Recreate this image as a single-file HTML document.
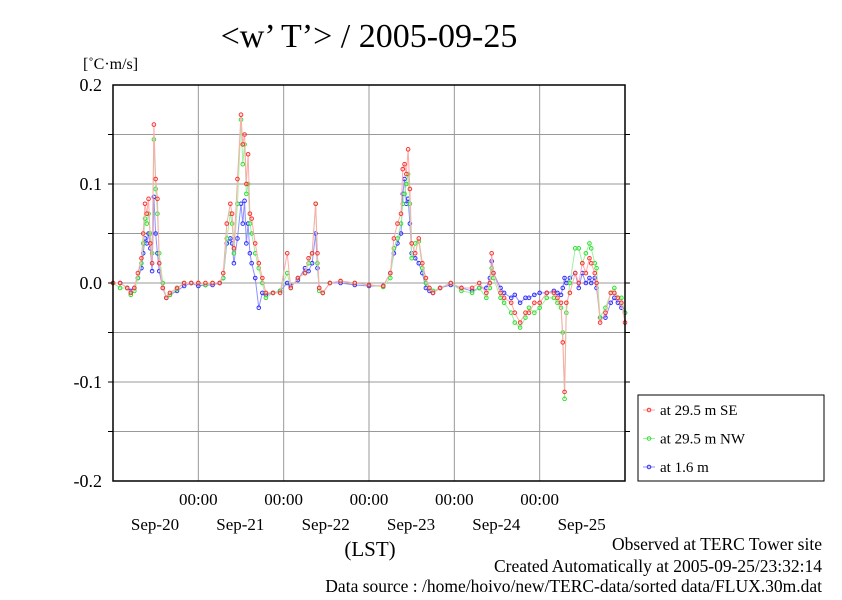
<!DOCTYPE html>
<html><head><meta charset="utf-8"><style>
body{margin:0;background:#fff;}
svg text{font-family:"Liberation Serif",serif;fill:#000;}
</style></head><body>
<svg id="chart" width="842" height="595" viewBox="0 0 842 595" xmlns="http://www.w3.org/2000/svg">
<rect width="842" height="595" fill="#fff"/>
<text x="369" y="47" font-size="34" text-anchor="middle">&lt;w’ T’&gt; / 2005-09-25</text>
<text x="83" y="69" font-size="16">[˚C·m/s]</text>
<g id="grid"></g>
<g id="series"></g>
<rect x="113" y="85" width="512" height="396" fill="none" stroke="#000" stroke-width="1.5"/>
<g id="axes"></g>
<text x="370" y="556" font-size="21" text-anchor="middle">(LST)</text>
<g>
<rect x="638" y="395" width="186" height="86" fill="#fff" stroke="#000" stroke-width="1"/>
<g id="legend-items"></g>
</g>
<text x="822" y="550" font-size="17.5" text-anchor="end">Observed at TERC Tower site</text>
<text x="822" y="572" font-size="17.5" text-anchor="end">Created Automatically at 2005-09-25/23:32:14</text>
<text x="822" y="595" font-size="17.5" text-anchor="end" dy="-3">Data source : /home/hoivo/new/TERC-data/sorted  data/FLUX.30m.dat</text>
</svg>
<script>
const hours=[0,2,4,5,6,7,8,8.5,9,9.5,10,10.5,11,11.5,12,12.5,13,14,15,16,18,20,22,24,26,28,30,31,32,33,33.5,34,35,36,36.5,37,37.5,38,38.5,39,40,41,42,43,45,47,49,50,52,54,55,56,57,57.5,58,59,61,64,68,72,76,78,79,80,81,81.5,82,82.5,83,83.5,84,85,86,87,88,89,90,92,95,98,101,103,105,106,106.5,107,109,110,112,113,114.5,116,117,118.5,120,122,124,125,126,126.5,127,127.5,128.5,130,131,132,133,134,134.5,135.5,136,137,138.5,140,141,142,143,144];
const seriesSE=[0,0,-0.005,-0.01,-0.005,0.01,0.025,0.05,0.08,0.07,0.085,0.04,0.02,0.16,0.105,0.085,0.02,-0.005,-0.015,-0.01,-0.005,0,0,0,0,0,0,0.01,0.06,0.08,0.07,0.035,0.105,0.17,0.14,0.15,0.1,0.13,0.07,0.065,0.04,0.02,0.005,-0.01,-0.01,-0.01,0.03,-0.005,0.005,0.01,0.025,0.03,0.08,0.03,-0.005,-0.01,0,0.002,0,-0.002,-0.003,0.01,0.045,0.06,0.07,0.115,0.12,0.11,0.135,0.095,0.04,0.03,0.045,0.02,0.005,-0.005,-0.01,-0.005,0,-0.005,-0.005,0,-0.01,0,0.03,0.01,-0.01,-0.015,-0.02,-0.03,-0.04,-0.03,-0.03,-0.02,-0.02,-0.01,-0.01,-0.015,-0.02,-0.06,-0.11,-0.02,-0.01,0.01,0,0.02,0.01,0.025,0.02,0.01,0,-0.04,-0.03,-0.01,-0.01,-0.015,-0.02,-0.04];
const seriesNW=[0,-0.005,-0.005,-0.012,-0.008,0.005,0.02,0.04,0.065,0.06,0.07,0.05,0.03,0.145,0.095,0.07,0.03,0,-0.015,-0.012,-0.006,0,0,0,-0.002,0,0,0.005,0.045,0.07,0.06,0.03,0.08,0.165,0.12,0.14,0.09,0.1,0.06,0.05,0.03,0.015,0,-0.015,-0.01,-0.008,0.01,-0.005,0.005,0.01,0.02,0.03,0.08,0.02,-0.008,-0.01,0,0.002,0,-0.002,-0.004,0.005,0.035,0.045,0.06,0.08,0.09,0.1,0.11,0.08,0.025,0.04,0.042,0.015,0,-0.005,-0.008,-0.005,0,-0.008,-0.01,-0.005,-0.015,-0.005,0.015,0.005,-0.015,-0.02,-0.03,-0.04,-0.045,-0.035,-0.025,-0.03,-0.025,-0.015,-0.015,-0.02,-0.025,-0.05,-0.117,-0.03,0,0.035,0.035,0.02,0.03,0.04,0.035,0.02,0.015,-0.035,-0.025,-0.01,-0.005,-0.015,-0.015,-0.03];
const seriesLow=[0,0,-0.005,-0.008,-0.005,0.005,0.015,0.03,0.045,0.04,0.05,0.035,0.012,0.087,0.05,0.03,0.012,-0.005,-0.015,-0.012,-0.008,-0.003,0,-0.003,-0.002,-0.002,0,0.005,0.04,0.045,0.04,0.02,0.045,0.08,0.06,0.083,0.04,0.06,0.03,0.02,0.005,-0.025,-0.01,-0.012,-0.01,-0.008,0,-0.003,0.003,0.015,0.012,0.02,0.05,0.015,-0.005,-0.01,0,0,-0.002,-0.003,-0.003,0.01,0.03,0.04,0.05,0.09,0.105,0.08,0.085,0.06,0.03,0.025,0.02,0.01,-0.005,-0.008,-0.01,-0.005,-0.002,-0.005,-0.008,-0.005,-0.005,0.005,0.022,0.01,-0.005,-0.01,-0.015,-0.012,-0.02,-0.015,-0.015,-0.012,-0.01,-0.01,-0.008,-0.01,-0.012,-0.005,0.005,0,0.005,0.01,-0.005,0.01,0,0.005,0,0.005,-0.005,-0.035,-0.035,-0.02,-0.015,-0.02,-0.025,-0.03];
const yTicks=[0.2,0.1,0.0,-0.1,-0.2];
const yTickLabels=["0.2","0.1","0.0","-0.1","-0.2"];
const dayLabels=["Sep-20","Sep-21","Sep-22","Sep-23","Sep-24","Sep-25"];
const NS='http://www.w3.org/2000/svg';
const X0=113,X1=625,Y0=85,Y1=481;
function xs(h){return X0+(X1-X0)*h/144;}
function ys(v){return Y0+(Y1-Y0)*(0.2-v)/0.4;}
function mk(tag,attrs,parent){const e=document.createElementNS(NS,tag);for(const k in attrs)e.setAttribute(k,attrs[k]);parent.appendChild(e);return e;}
const grid=document.getElementById('grid'),axes=document.getElementById('axes');
for(let v=-0.15;v<0.2;v+=0.05){
 const l=mk('line',{x1:X0,x2:X1,y1:ys(v),y2:ys(v),stroke:'#999','stroke-width':1},grid);
 
 
 const t1=mk('line',{x1:X0-5,x2:X0,y1:ys(v),y2:ys(v),stroke:'#000'},axes);
 
 
 const t2=mk('line',{x1:X1,x2:X1+5,y1:ys(v),y2:ys(v),stroke:'#000'},axes);
 
 
}
yTicks.forEach((v,i)=>{
 const t=mk('text',{x:X0-11,y:ys(v)+6,'font-size':18,'text-anchor':'end'},axes);
 t.textContent=yTickLabels[i];
 
 
});
dayLabels.forEach((d,i)=>{
 const h=24*(i+1);
 if(i<5){
  const l=mk('line',{x1:xs(h),x2:xs(h),y1:Y0,y2:Y1,stroke:'#999','stroke-width':1},grid);
  
  
  const t=mk('text',{x:xs(h),y:505,'font-size':17,'text-anchor':'middle'},axes);
  t.textContent='00:00';
  
  
 }
 const t=mk('text',{x:xs(h-24)+42,y:530,'font-size':17,'text-anchor':'middle'},axes);
 t.textContent=d;
 
 
});
const defs=[[seriesSE,'#ff3030','#ffaaaa','series-29m-se','at 29.5 m SE'],[seriesNW,'#30e030','#a0f0a0','series-29m-nw','at 29.5 m NW'],[seriesLow,'#3030ff','#9090ff','series-1m','at 1.6 m']];
const sg=document.getElementById('series');
[2,1,0].forEach(k=>{
 const [vals,c,lc,nm]=defs[k];
 const g=mk('g',{},sg);
 
 
 const pts=vals.map((v,i)=>xs(hours[i])+','+ys(v)).join(' ');
 const pl=mk('polyline',{points:pts,fill:'none',stroke:lc,'stroke-width':1},g);
 
 
 vals.forEach((v,i)=>{
  const p=mk('circle',{cx:xs(hours[i]),cy:ys(v),r:1.8,fill:'none',stroke:c,'stroke-width':1},g);
  
  
 });
});
const li=document.getElementById('legend-items');
defs.forEach((d,i)=>{
 const y=410+i*28.5;
 const l=mk('line',{x1:643,x2:655,y1:y,y2:y,stroke:d[2]},li);
 
 
 const c=mk('circle',{cx:649,cy:y,r:1.8,fill:'none',stroke:d[1]},li);
 
 
 const t=mk('text',{x:660,y:y+5,'font-size':15},li);
 t.textContent=d[4];
 
 
});
</script>
</body></html>
